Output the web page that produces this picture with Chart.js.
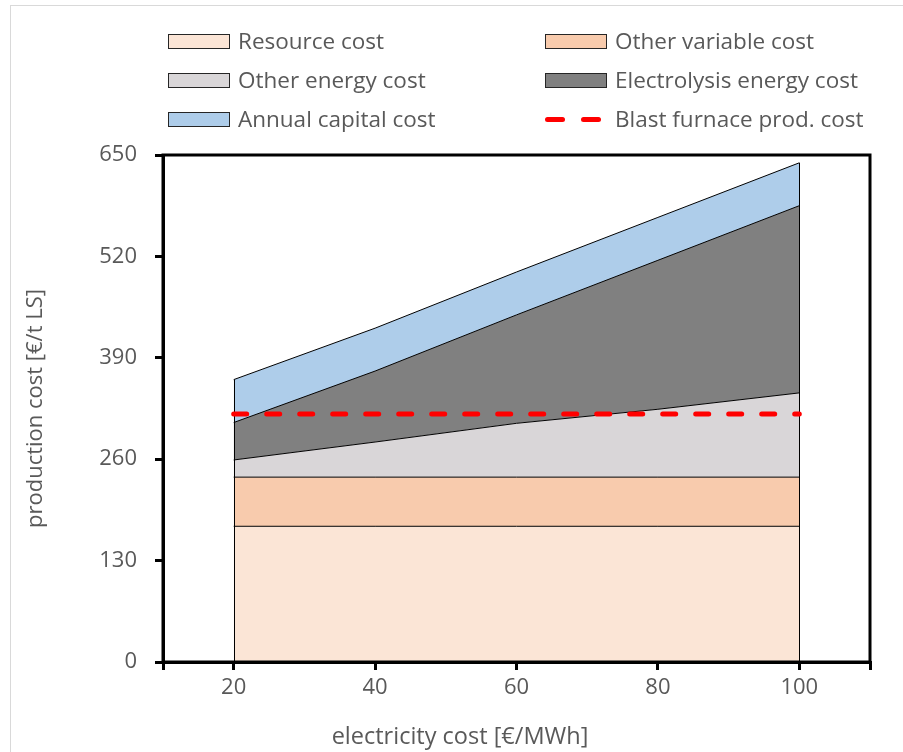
<!DOCTYPE html>
<html>
<head>
<meta charset="utf-8">
<script src="https://cdn.jsdelivr.net/npm/chart.js@4/dist/chart.umd.min.js"></script>
<style>
  body { margin: 0; background: #fff; }
  #wrap { position: relative; width: 903px; height: 752px; overflow: hidden; }
  #legend { position: absolute; left: 0; top: 0; font-family: "Open Sans", sans-serif; font-size: 22.5px; color: #595959; }
  .item { position: absolute; height: 30px; line-height: 30px; white-space: nowrap; }
  .box { position: absolute; left: 0; top: 8px; width: 60px; height: 13px; border: 1px solid #262626; }
  .dash { position: absolute; top: 13px; width: 20px; height: 5px; border-radius: 3px; background: #ff0000; }
  .txt { position: absolute; left: 70px; top: 0; }
</style>
</head>
<body>
<div id="wrap">
  <canvas id="chart" width="903" height="752"></canvas>
  <div id="legend"></div>
</div>
<script>
const elecCost = [20, 40, 60, 80, 100];
const resourceCost = [174, 174, 174, 174, 174];
const otherVariableCost = [63, 63, 63, 63, 63];
const otherEnergyCost = [22, 45, 69, 87, 108];
const electrolysisCost = [48, 91, 139, 191, 240];
const capitalCost = [55, 55, 55, 55, 55];
const blastFurnaceCost = [318, 318, 318, 318, 318];

const seriesNames = ["Resource cost", "Other variable cost", "Other energy cost",
  "Electrolysis energy cost", "Annual capital cost", "Blast furnace prod. cost"];
const seriesColors = ["#fbe5d6", "#f8cbad", "#d9d6d8", "#808080", "#aecdea", "#ff0000"];
const stackValues = [resourceCost, otherVariableCost, otherEnergyCost, electrolysisCost, capitalCost];
const xTitle = "electricity cost [€/MWh]";

const toPoints = (vals) => vals.map((v, i) => ({ x: elecCost[i], y: v }));

const datasets = stackValues.map((vals, i) => ({
  label: seriesNames[i],
  data: toPoints(vals),
  backgroundColor: seriesColors[i],
  borderColor: "#000",
  borderWidth: 1,
  pointRadius: 0,
  fill: i === 0 ? "origin" : "-1",
  order: 0,
}));
datasets.push({
  label: seriesNames[5],
  data: toPoints(blastFurnaceCost),
  borderColor: seriesColors[5],
  borderWidth: 5,
  borderDash: [13, 20],
  borderCapStyle: "round",
  pointRadius: 0,
  fill: false,
  stack: "bf",
  order: -1,
});

// side edges of the stacked area, frame round the plot, x title (sits left of centre)
const frame = {
  id: "frame",
  beforeDatasetDraw(chart, args) {
    if (args.index !== 5) return;
    const { ctx, scales } = chart;
    const last = elecCost.length - 1;
    const totals = elecCost.map((_, i) => stackValues.reduce((s, a) => s + a[i], 0));
    ctx.save();
    ctx.strokeStyle = "#000";
    ctx.lineWidth = 1;
    [0, last].forEach((i) => {
      const x = Math.round(scales.x.getPixelForValue(elecCost[i])) + 0.5;
      ctx.beginPath();
      ctx.moveTo(x, scales.y.getPixelForValue(0));
      ctx.lineTo(x, scales.y.getPixelForValue(totals[i]));
      ctx.stroke();
    });
    ctx.restore();
  },
  afterDraw(chart) {
    const { ctx, chartArea: a } = chart;
    ctx.save();
    ctx.strokeStyle = "#000";
    ctx.lineWidth = 3;
    ctx.strokeRect(a.left, a.top, a.right - a.left, a.bottom - a.top);
    ctx.strokeStyle = "#d9d9d9";
    ctx.lineWidth = 1;
    ctx.strokeRect(10.5, 5.5, 1000, 1000);
    ctx.fillStyle = "#595959";
    ctx.font = "23.5px 'Open Sans', sans-serif";
    ctx.textAlign = "center";
    ctx.textBaseline = "middle";
    ctx.fillText(xTitle, 460, 737);
    ctx.restore();
  },
};

Chart.defaults.font.family = "'Open Sans', sans-serif";
Chart.defaults.color = "#595959";

new Chart(document.getElementById("chart"), {
  type: "line",
  data: { datasets: datasets },
  options: {
    responsive: false,
    animation: false,
    layout: { padding: { left: 0, top: 155, right: 33, bottom: 0 } },
    plugins: { legend: { display: false }, tooltip: { enabled: false } },
    scales: {
      x: {
        type: "linear",
        min: 10,
        max: 110,
        afterBuildTicks(scale) {
          scale.ticks = [10, 20, 40, 60, 80, 100, 110].map((v) => ({ value: v }));
        },
        afterFit(scale) { scale.height = 90; },
        ticks: {
          font: { size: 22 },
          padding: 5,
          callback: (v) => (v === 10 || v === 110 ? "" : v),
        },
        grid: { drawOnChartArea: false, color: "#000", lineWidth: 3, tickLength: 8 },
        border: { color: "#000", width: 3 },
      },
      y: {
        stacked: true,
        min: 0,
        max: 650,
        ticks: { stepSize: 130, font: { size: 22 }, padding: 18 },
        afterFit(scale) { scale.width = 163; },
        grid: { drawOnChartArea: false, color: "#000", lineWidth: 3, tickLength: 8 },
        border: { color: "#000", width: 3 },
        title: { display: true, text: "production cost [€/t LS]", font: { size: 22 }, padding: { top: 23, bottom: 0 } },
      },
    },
  },
  plugins: [frame],
});

// legend, two columns
const legend = document.getElementById("legend");
const colX = [168, 545];
const rowY = [26, 65, 104];
seriesNames.forEach((name, i) => {
  const el = document.createElement("div");
  el.className = "item";
  el.style.left = colX[i % 2] + "px";
  el.style.top = rowY[Math.floor(i / 2)] + "px";
  if (i < 5) {
    el.innerHTML = '<div class="box" style="background:' + seriesColors[i] + '"></div>';
  } else {
    el.innerHTML = '<div class="dash" style="left:0"></div><div class="dash" style="left:36px"></div>';
  }
  el.innerHTML += '<span class="txt">' + name + "</span>";
  legend.appendChild(el);
});
</script>
</body>
</html>
